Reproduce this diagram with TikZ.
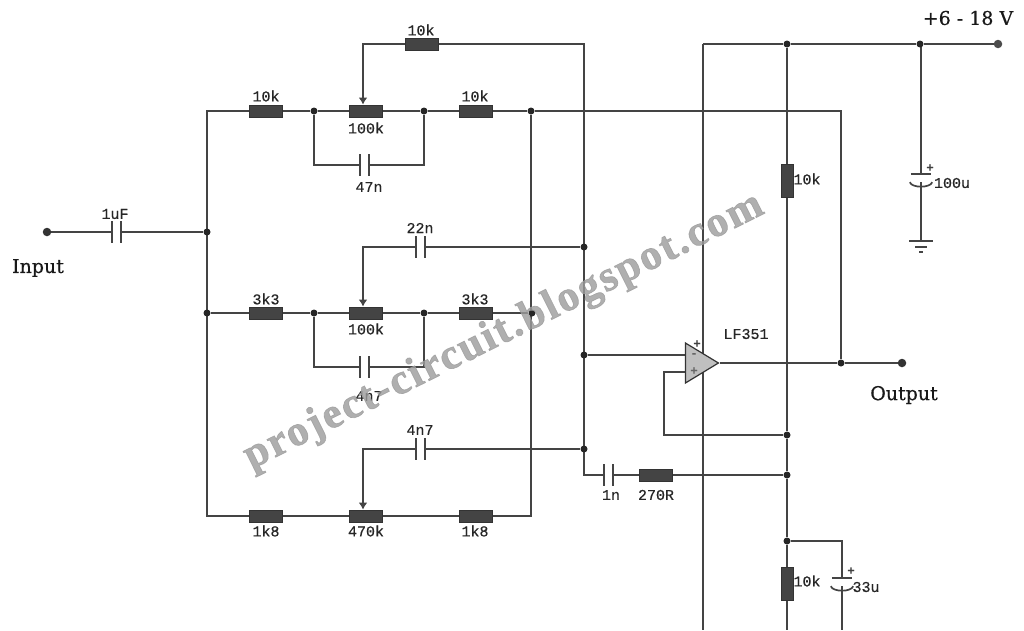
\documentclass[tikz,border=0pt]{standalone}
\usepackage{fontspec}
\setmainfont[FakeBold=0.5]{DejaVu Serif}
\newfontfamily\labelfont[FakeBold=0.4]{Liberation Mono}
\newfontfamily\markfont[LetterSpace=5,FakeBold=1.5]{Liberation Serif}
\usetikzlibrary{arrows.meta,shapes.geometric,backgrounds}
\definecolor{wirec}{HTML}{444444}
\definecolor{bodyc}{HTML}{444444}
\definecolor{opfill}{HTML}{BFBFBF}
\definecolor{markc}{HTML}{9C9C9C}
\tikzset{
  wire/.style={draw=wirec,line width=1.4pt},
  plate/.style={draw=wirec,line width=1.7pt},
  pinarrow/.style={wire,-{Latex[length=7pt,width=9pt]}},
  jdot/.style={circle,fill=black!85,inner sep=0pt,minimum size=7pt},
  termdot/.style={circle,fill=black!80,inner sep=0pt,minimum size=8.5pt},
  resh/.style={rectangle,draw=black!80,fill=bodyc,line width=1pt,minimum width=33pt,minimum height=12pt,inner sep=0pt},
  resv/.style={rectangle,draw=black!80,fill=bodyc,line width=1pt,minimum width=12pt,minimum height=33pt,inner sep=0pt},
  caph/.style={rectangle,inner sep=0pt,minimum width=9pt,minimum height=21pt},
  capv/.style={rectangle,inner sep=0pt,minimum width=20pt,minimum height=8pt},
  val/.style={font=\labelfont\fontsize{15}{15}\selectfont,text=black!85,inner sep=0pt},
  sym/.style={font=\labelfont\bfseries\fontsize{12}{12}\selectfont,text=black!75,inner sep=0pt},
  big/.style={font=\fontsize{19}{20}\selectfont,text=black!90,inner sep=0pt},
  opamp/.style={isosceles triangle,isosceles triangle stretches,shape border rotate=0,draw=black!80,fill=opfill,line width=1.2pt,minimum width=40pt,minimum height=33pt,inner sep=0pt},
}
\newcommand{\capH}[3]{\node[caph] (#1) at (#2,#3) {};
  \draw[plate] (#1.north west) -- (#1.south west) (#1.north east) -- (#1.south east);}
\newcommand{\capV}[3]{\node[capv] (#1) at (#2,#3) {};
  \draw[plate] (#1.north west) -- (#1.north east);
  \draw[plate] ([xshift=-1pt]#1.south west) .. controls ([xshift=1pt,yshift=-6pt]#1.south west) and ([xshift=-1pt,yshift=-6pt]#1.south east) .. ([xshift=1pt]#1.south east);}
\begin{document}
\begin{tikzpicture}[x=1pt,y=-1pt]
\useasboundingbox (0,0) rectangle (1024,630);
% junctions and terminals
\node[termdot] (in) at (47,232) {};
\node[jdot] (j207a) at (207,232) {};
\node[jdot] (j207b) at (207,313) {};
\node[jdot] (t1) at (314,111) {};
\node[jdot] (t2) at (424,111) {};
\node[jdot] (t3) at (531,111) {};
\node[jdot] (m1) at (314,313) {};
\node[jdot] (m2) at (424,313) {};
\node[jdot] (m3) at (532,313) {};
\node[jdot] (f1) at (584,247) {};
\node[jdot] (f2) at (584,355) {};
\node[jdot] (f3) at (584,449) {};
\node[jdot] (s1) at (787,44) {};
\node[jdot] (s2) at (920,44) {};
\node[termdot,fill=black!70] (vcc) at (998,44) {};
\node[jdot] (o1) at (841,363) {};
\node[termdot] (out) at (902,363) {};
\node[jdot] (b1) at (787,435) {};
\node[jdot] (b2) at (787,475) {};
\node[jdot] (b3) at (787,541) {};
% corners and free ends
\coordinate (tl) at (207,111);
\coordinate (bl) at (207,516);
\coordinate (br) at (531,516);
\coordinate (tr) at (584,44);
\coordinate (wa) at (363,44);
\coordinate (wb) at (363,247);
\coordinate (wc) at (363,449);
\coordinate (cl1) at (314,165);
\coordinate (cr1) at (424,165);
\coordinate (cl2) at (314,367);
\coordinate (cr2) at (424,367);
\coordinate (rc) at (841,111);
\coordinate (vtop) at (703,44);
\coordinate (vbot) at (703,630);
\coordinate (gbot) at (787,630);
\coordinate (cbot) at (842,630);
\coordinate (ctop) at (842,541);
\coordinate (lc) at (584,475);
\coordinate (fb1) at (664,372);
\coordinate (fb2) at (664,435);
\coordinate (ipm) at (687,355);
\coordinate (ipp) at (687,372);
% resistors
\node[resh] (r1) at (266,111) {};
\node[resh] (p1) at (365.5,111) {};
\node[resh] (r2) at (475.5,111) {};
\node[resh] (rf) at (421.5,44) {};
\node[resh] (r3) at (266,313) {};
\node[resh] (p2) at (365.5,313) {};
\node[resh] (r4) at (475.5,313) {};
\node[resh] (r5) at (266,516) {};
\node[resh] (p3) at (365.5,516) {};
\node[resh] (r6) at (475.5,516) {};
\node[resh] (r7) at (656,475) {};
\node[resv] (r8) at (787,181) {};
\node[resv] (r9) at (787,584) {};
% capacitors
\capH{c0}{116.5}{232}
\capH{c1}{364.5}{165}
\capH{c2}{420.5}{247}
\capH{c3}{364.5}{367}
\capH{c4}{420.5}{449}
\capH{c5}{608.5}{475}
\capV{c6}{921}{178}
\capV{c7}{842}{582}
% op amp
\node[opamp,anchor=apex] (u1) at (720,363) {};
% ground
\node[inner sep=0pt,minimum size=0pt] (gnd) at (921,241) {};
\draw[plate] (909,241) -- (933,241) (915,247) -- (927,247) (919,252) -- (923,252);
% wires
\begin{scope}[on background layer]
\fill[white] (0,0) rectangle (1024,630);
\draw[wire] (in) -- (c0.west) (c0.east) -- (j207a);
\draw[wire] (r1.west) -- (tl) -- (bl) -- (r5.west);
\draw[wire] (r1.east) -- (t1) -- (p1.west) (p1.east) -- (t2) -- (r2.west) (r2.east) -- (t3) -- (rc) -- (o1);
\draw[wire] (t1) -- (cl1) -- (c1.west) (c1.east) -- (cr1) -- (t2);
\draw[wire] (j207b) -- (r3.west) (r3.east) -- (m1) -- (p2.west) (p2.east) -- (m2) -- (r4.west) (r4.east) -- (m3);
\draw[wire] (m1) -- (cl2) -- (c3.west) (c3.east) -- (cr2) -- (m2);
\draw[wire] (r5.east) -- (p3.west) (p3.east) -- (r6.west) (r6.east) -- (br) -- (t3);
\draw[pinarrow] (rf.west) -- (wa) -- (p1.north -| wa);
\draw[wire] (rf.east) -- (tr) -- (lc) -- (c5.west);
\draw[pinarrow] (c2.west) -- (wb) -- (p2.north -| wb);
\draw[wire] (c2.east) -- (f1);
\draw[pinarrow] (c4.west) -- (wc) -- (p3.north -| wc);
\draw[wire] (c4.east) -- (f3);
\draw[wire] (f2) -- (ipm);
\draw[wire] (ipp) -- (fb1) -- (fb2) -- (b1);
\draw[wire] (u1.apex) -- (o1) -- (out);
\draw[wire] (c5.east) -- (r7.west) (r7.east) -- (b2);
\draw[wire] (vtop) -- (vbot);
\draw[wire] (vtop) -- (s1) -- (s2) -- (vcc);
\draw[wire] (s1) -- (r8.north) (r8.south) -- (b1) -- (b2) -- (b3) -- (r9.north) (r9.south) -- (gbot);
\draw[wire] (s2 -| c6) -- (c6.north);
\draw[wire] (c6.south) -- (gnd);
\draw[wire] (b3) -- (ctop) -- (c7.north) (c7.south) -- (cbot);
\end{scope}
% labels
\node[val] (l1) at (266,96) {10k};
\node[val] (l2) at (366,128) {100k};
\node[val] (l3) at (475,96) {10k};
\node[val] (l4) at (421,30) {10k};
\node[val] (l5) at (369,187) {47n};
\node[val] (l6) at (115,214) {1uF};
\node[val] (l7) at (420,228) {22n};
\node[val] (l8) at (266,299) {3k3};
\node[val] (l9) at (366,329) {100k};
\node[val] (l10) at (475,299) {3k3};
\node[val] (l11) at (369,396) {4n7};
\node[val] (l12) at (420,430) {4n7};
\node[val] (l13) at (266,531) {1k8};
\node[val] (l14) at (366,531) {470k};
\node[val] (l15) at (475,531) {1k8};
\node[val] (l16) at (611,495) {1n};
\node[val] (l17) at (656,495) {270R};
\node[val] (l18) at (746,334) {LF351};
\node[val] (l19) at (807,179) {10k};
\node[val] (l20) at (952,183) {100u};
\node[val] (l21) at (807,581) {10k};
\node[val] (l22) at (866,587) {33u};
\node[sym] (s3) at (930,168) {+};
\node[sym] (s4) at (851,571) {+};
\node[sym] (s5) at (697,344) {+};
\node[sym,text=black!60] (s6) at (694,355) {-};
\node[sym,text=black!60] (s7) at (694,371) {+};
\node[big] (inl) at (38,268) {Input};
\node[big] (outl) at (904,395) {Output};
\node[big] (vl) at (968,18) {+6 - 18 V};
% watermark
\node[font=\markfont\bfseries\fontsize{43}{43}\selectfont,text=markc,opacity=0.8,rotate=26.5,inner sep=0pt] (wm) at (504,332) {project-circuit.blogspot.com};
\end{tikzpicture}
\end{document}
